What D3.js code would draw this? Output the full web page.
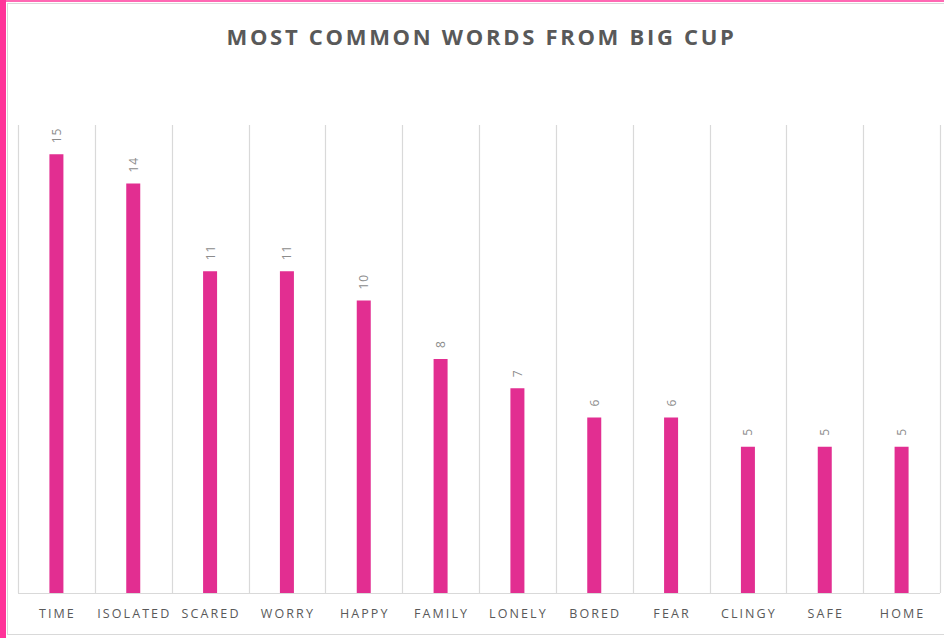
<!DOCTYPE html>
<html>
<head>
<meta charset="utf-8">
<script src="https://cdn.jsdelivr.net/npm/d3@7"></script>
<style>
  html, body { margin: 0; padding: 0; background: #fff; }
  svg { display: block; }
</style>
</head>
<body>
<svg id="chart"></svg>
<script>
// Most common words — Big Cup
const words  = ['TIME', 'ISOLATED', 'SCARED', 'WORRY', 'HAPPY', 'FAMILY', 'LONELY', 'BORED', 'FEAR', 'CLINGY', 'SAFE', 'HOME'];
const counts = [15, 14, 11, 11, 10, 8, 7, 6, 6, 5, 5, 5];
const yMax   = 16;

const W = 944, H = 638;
const plot = { left: 18, right: 940, top: 125, bottom: 593 };

const svg = d3.select('#chart').attr('width', W).attr('height', H);

// frame: pink edges + light gray chart border
svg.append('rect').attr('x', 0).attr('y', 0).attr('width', W).attr('height', 2).attr('fill', '#ff69b4');
svg.append('rect').attr('x', 7.5).attr('y', 3.5).attr('width', W + 10).attr('height', 631)
  .attr('fill', 'none').attr('stroke', '#d9d9d9').attr('stroke-width', 1);
svg.append('rect').attr('x', 0).attr('y', 0).attr('width', 6).attr('height', H).attr('fill', '#ff3399');

const x = d3.scaleBand().domain(words).range([plot.left, plot.right]);
const y = d3.scaleLinear().domain([0, yMax]).range([plot.bottom, plot.top]);

// vertical gridlines at category boundaries
const edges = words.map(w => x(w)).concat([plot.right]);
svg.append('g').selectAll('line').data(edges).join('line')
  .attr('x1', d => Math.round(d) + 0.5).attr('x2', d => Math.round(d) + 0.5)
  .attr('y1', plot.top).attr('y2', plot.bottom)
  .attr('stroke', '#d9d9d9').attr('stroke-width', 1.2);

// baseline
svg.append('line')
  .attr('x1', plot.left).attr('x2', plot.right)
  .attr('y1', plot.bottom + 0.5).attr('y2', plot.bottom + 0.5)
  .attr('stroke', '#d9d9d9').attr('stroke-width', 1.2);

const barW = 14;
svg.append('g').selectAll('rect').data(counts).join('rect')
  .attr('x', (d, i) => x(words[i]) + x.bandwidth() / 2 - barW / 2)
  .attr('y', d => y(d))
  .attr('width', barW)
  .attr('height', d => y(0) - y(d))
  .attr('fill', '#e22e91');

// value labels, rotated
svg.append('g').selectAll('text').data(counts).join('text')
  .attr('transform', (d, i) => `translate(${x(words[i]) + x.bandwidth() / 2 + 4.5},${y(d) - 11}) rotate(-90)`)
  .attr('font-family', 'Open Sans, sans-serif').attr('font-size', 12)
  .attr('letter-spacing', '1px')
  .attr('fill', '#8c8c8c').text(d => d);

// category axis labels
svg.append('g').selectAll('text').data(words).join('text')
  .attr('x', d => x(d) + x.bandwidth() / 2 + 1)
  .attr('y', 618)
  .attr('text-anchor', 'middle')
  .attr('font-family', 'Open Sans, sans-serif').attr('font-size', 12.5)
  .attr('letter-spacing', '2.1px')
  .attr('fill', '#595959').text(d => d);

// title
svg.append('text')
  .attr('x', 481.5).attr('y', 45)
  .attr('text-anchor', 'middle')
  .attr('font-family', 'Open Sans, sans-serif').attr('font-size', 22).attr('font-weight', 700)
  .attr('letter-spacing', '2.7px')
  .attr('fill', '#595959').text('MOST COMMON WORDS FROM BIG CUP');
</script>
</body>
</html>
